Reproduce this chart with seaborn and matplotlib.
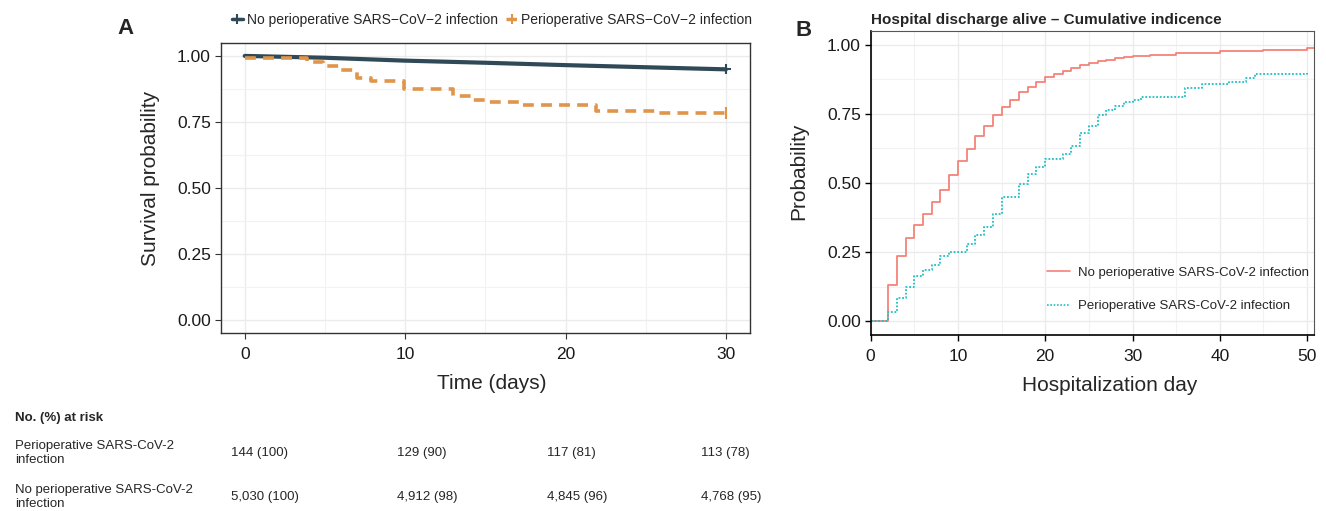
import numpy as np
import pandas as pd
from matplotlib import pyplot as plt
from matplotlib.lines import Line2D
from matplotlib.ticker import MultipleLocator
import seaborn as sns

# panel A - Kaplan-Meier survival
no_day = [0, 5, 10, 15, 20, 25, 30]
no_surv = [1.0, 0.993, 0.982, 0.974, 0.965, 0.957, 0.949]
peri_day = [0, 3.9, 4.9, 5.9, 7.0, 7.9, 9.9, 13.0, 14.1, 15.0, 17.2, 21.9, 25.8, 30]
peri_surv = [0.991, 0.975, 0.962, 0.946, 0.918, 0.905, 0.876, 0.848, 0.833,
             0.827, 0.814, 0.792, 0.785, 0.785]

# panel B - cumulative incidence of discharge
red_day = [0, 2, 3, 4, 5, 6, 7, 8, 9, 10, 11, 12, 13, 14, 15, 16, 17, 18, 19, 20,
           21, 22, 23, 24, 25, 26, 27, 28, 29, 30, 32, 35, 40, 45, 50, 50.8]
red_p = [0, 0.131, 0.236, 0.301, 0.349, 0.387, 0.432, 0.476, 0.530, 0.578, 0.624,
         0.669, 0.706, 0.745, 0.775, 0.802, 0.828, 0.849, 0.865, 0.882, 0.895,
         0.906, 0.917, 0.927, 0.935, 0.941, 0.946, 0.952, 0.957, 0.960, 0.964,
         0.970, 0.976, 0.982, 0.987, 0.988]
teal_day = [0, 2, 3, 4, 5, 6, 7, 8, 9, 11, 12, 13, 14, 15, 17, 18, 19, 20, 22, 23,
            24, 25, 26, 27, 28, 29, 30, 31, 36, 38, 41, 43, 44, 50]
teal_p = [0, 0.033, 0.083, 0.123, 0.163, 0.185, 0.202, 0.235, 0.25, 0.280, 0.312,
          0.342, 0.387, 0.449, 0.496, 0.531, 0.558, 0.587, 0.604, 0.633, 0.681,
          0.708, 0.747, 0.766, 0.780, 0.792, 0.800, 0.811, 0.845, 0.859, 0.867,
          0.880, 0.893, 0.899]

lab_no = 'No perioperative SARS\u2212CoV\u22122 infection'
lab_peri = 'Perioperative SARS\u2212CoV\u22122 infection'
lab_no_b = 'No perioperative SARS-CoV-2 infection'
lab_peri_b = 'Perioperative SARS-CoV-2 infection'

risk_rows = ['Perioperative SARS-CoV-2\ninfection', 'No perioperative SARS-CoV-2\ninfection']
risk_peri = ['144 (100)', '129 (90)', '117 (81)', '113 (78)']
risk_no = ['5,030 (100)', '4,912 (98)', '4,845 (96)', '4,768 (95)']

navy = '#2F4A56'
orange = '#E0954A'
red = '#F4837A'
teal = '#1EC0C4'

sns.set_theme(style='white')
plt.rcParams['font.family'] = ['Liberation Sans', 'DejaVu Sans']

fig = plt.figure(figsize=(13.26, 5.11), dpi=100)
axA = fig.add_axes([0.1664, 0.3489, 0.3992, 0.5675])
axB = fig.add_axes([0.6566, 0.3444, 0.3344, 0.5949])

# ---- panel A
sns.lineplot(x=no_day, y=no_surv, ax=axA, color=navy, lw=3.0, estimator=None, sort=False)
sns.lineplot(x=peri_day, y=peri_surv, ax=axA, color=orange, lw=2.6, estimator=None,
             sort=False, drawstyle='steps-post', linestyle=(0, (3, 2)))
axA.plot(no_day[-1], no_surv[-1], marker='+', color=navy, ms=7, mew=1.5)
axA.plot(peri_day[-1], peri_surv[-1], marker='|', color=orange, ms=8, mew=1.5)

axA.set_xlim(-1.5, 31.5)
axA.set_ylim(-0.05, 1.05)
axA.set_xticks([0, 10, 20, 30])
axA.set_yticks([0, 0.25, 0.5, 0.75, 1.0])
axA.set_yticklabels(['0.00', '0.25', '0.50', '0.75', '1.00'])
axA.xaxis.set_minor_locator(MultipleLocator(5))
axA.yaxis.set_minor_locator(MultipleLocator(0.125))
axA.grid(which='major', color='#EBEBEB', lw=1.0)
axA.grid(which='minor', color='#F2F2F2', lw=0.8)
axA.set_axisbelow(True)
axA.tick_params(which='major', bottom=True, left=True, length=4, width=0.8,
                color='#333333', labelsize=12.5, labelcolor='#1a1a1a', pad=3)
axA.tick_params(axis='x', which='major', pad=6)
axA.tick_params(which='minor', length=0)
for s in axA.spines.values():
    s.set_color('#333333')
    s.set_linewidth(1.0)
axA.set_xlabel('Time (days)', fontsize=15)
axA.set_ylabel('Survival probability', fontsize=15)
axA.xaxis.set_label_coords(0.513, -0.142)
axA.yaxis.set_label_coords(-0.115, 0.533)

handles_a = [Line2D([0], [0], color=navy, lw=2.5, marker='+', ms=7, mew=1.5),
             Line2D([0], [0], color=orange, lw=2.5, ls=(0, (3, 2)), marker='+', ms=7, mew=1.5)]
fig.legend(handles=handles_a, labels=[lab_no, lab_peri], loc='center',
           bbox_to_anchor=(0.371, 0.961), ncol=2, frameon=False, fontsize=10,
           handlelength=0.8, handletextpad=0.3, columnspacing=0.6)

# ---- panel B
sns.lineplot(x=red_day, y=red_p, ax=axB, color=red, lw=1.3, estimator=None,
             sort=False, drawstyle='steps-post')
sns.lineplot(x=teal_day, y=teal_p, ax=axB, color=teal, lw=1.3, estimator=None,
             sort=False, drawstyle='steps-post', linestyle=(0, (1, 1)))
axB.set_xlim(0, 50.8)
axB.set_ylim(-0.05, 1.05)
axB.set_xticks([0, 10, 20, 30, 40, 50])
axB.set_yticks([0, 0.25, 0.5, 0.75, 1.0])
axB.set_yticklabels(['0.00', '0.25', '0.50', '0.75', '1.00'])
axB.xaxis.set_minor_locator(MultipleLocator(5))
axB.yaxis.set_minor_locator(MultipleLocator(0.125))
axB.grid(which='major', color='#EBEBEB', lw=1.0)
axB.grid(which='minor', color='#F2F2F2', lw=0.8)
axB.set_axisbelow(True)
axB.tick_params(which='major', bottom=True, left=True, length=4, width=1.0,
                color='black', labelsize=12.5, labelcolor='#1a1a1a', pad=3)
axB.tick_params(axis='x', which='major', pad=6)
axB.tick_params(which='minor', length=0)
for k in ['top', 'right']:
    axB.spines[k].set_color('#555555')
    axB.spines[k].set_linewidth(0.8)
for k in ['left', 'bottom']:
    axB.spines[k].set_color('black')
    axB.spines[k].set_linewidth(1.2)
axB.set_xlabel('Hospitalization day', fontsize=15)
axB.set_ylabel('Probability', fontsize=15)
axB.xaxis.set_label_coords(0.54, -0.135)
axB.yaxis.set_label_coords(-0.141, 0.54)
axB.set_title('Hospital discharge alive \u2013 Cumulative indicence', loc='left',
              fontsize=11, fontweight='bold', pad=5)

handles_b = [Line2D([0], [0], color=red, lw=1.2),
             Line2D([0], [0], color=teal, lw=1.2, ls=(0, (1, 1)))]
axB.legend(handles=handles_b, labels=[lab_no_b, lab_peri_b], loc='center left',
           bbox_to_anchor=(0.37, 0.15), frameon=False, fontsize=9.5,
           handlelength=1.8, handletextpad=0.6, labelspacing=1.6)

# panel letters
fig.text(0.095, 0.945, 'A', fontsize=16, fontweight='bold', ha='center', va='center')
fig.text(0.606, 0.941, 'B', fontsize=16, fontweight='bold', ha='center', va='center')

# at-risk table
fig.text(0.0113, 0.182, 'No. (%) at risk', fontsize=9.5, fontweight='bold', va='center')
col_x = [0.1742, 0.2994, 0.4125, 0.5287]
for row_y, row_lab, vals in zip([0.1135, 0.027], risk_rows, [risk_peri, risk_no]):
    fig.text(0.0113, row_y, row_lab, fontsize=9.5, va='center', linespacing=1.25)
    for cx, v in zip(col_x, vals):
        fig.text(cx, row_y, v, fontsize=9.5, va='center')

fig.savefig('out.png', dpi=100)
